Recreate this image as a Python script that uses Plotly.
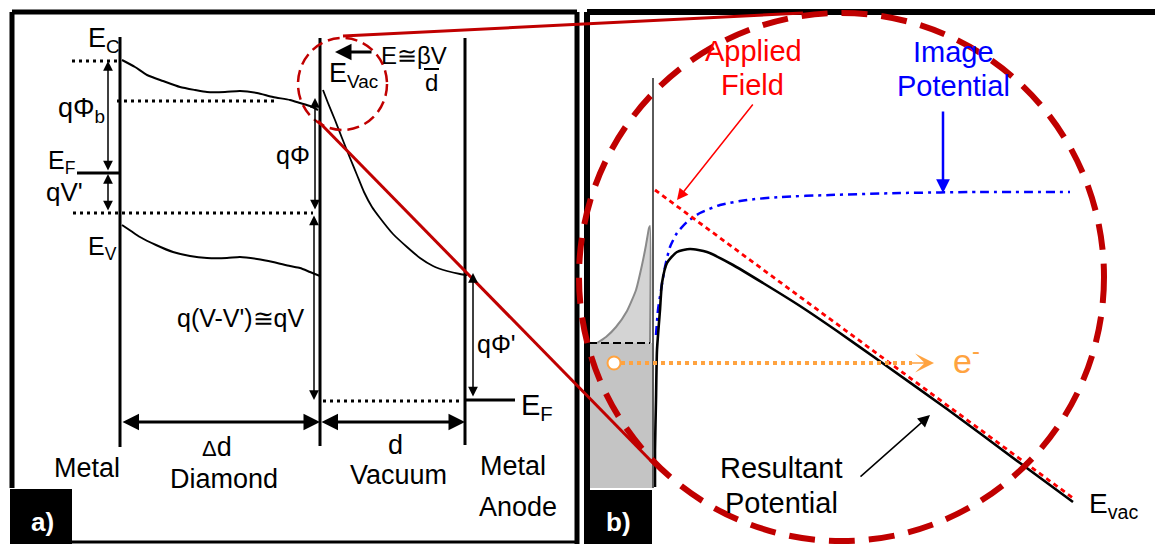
import plotly.graph_objects as go

W, H = 1155, 544
SANS = "Liberation Sans, Arial, sans-serif"
DARK_RED = "#c00000"
ORANGE = "#ffa340"

# ---------------- panel a: band diagram (drawing units, y grows downward)
cond_band_x = [122, 135, 147, 163, 180, 195, 207, 225, 240, 257, 273, 290, 300, 310, 318]
cond_band_y = [60, 67, 75, 81, 87, 90, 92, 92, 91, 93, 97, 100, 103, 106, 110]
val_band_x = [122, 131, 140, 156, 173, 190, 207, 227, 240, 257, 273, 290, 300, 310, 320]
val_band_y = [225, 231, 237, 245, 252, 256, 258, 258, 257, 259, 262, 266, 268, 272, 276]
vac_level_x = [323, 328, 335, 342, 350, 357, 364, 372, 380, 393, 407, 420, 433, 447, 460, 467]
vac_level_y = [90, 103, 120, 138, 158, 175, 192, 207, 218, 234, 247, 258, 266, 271, 274, 275]

# ---------------- panel b: potential barrier at the emitting surface
dos_x = [597, 606, 616, 627, 636, 642, 646, 649, 650, 650]
dos_y = [343, 337, 327, 311, 290, 265, 245, 228, 226, 343]
applied_x = [655, 1073]
applied_y = [190, 498]
image_x = [656, 658, 661, 665, 670, 677, 687, 700, 720, 747, 780, 830, 900, 980, 1070]
image_y = [335, 310, 290, 267, 247, 233, 222, 213, 205, 200, 197, 195, 193, 192, 192]
result_x = [655, 655, 656, 657, 660, 662, 667, 677, 690, 707, 733, 763, 800, 837, 881, 947, 1020, 1073]
result_y = [487, 450, 400, 350, 310, 283, 263, 252, 249, 252, 265, 283, 306, 331, 362, 409, 463, 502]

fig = go.Figure()


def curve(x, y, color, width, dash=None, **kw):
    fig.add_trace(go.Scatter(
        x=x, y=y, mode="lines",
        line=dict(color=color, width=width, dash=dash, shape="spline", smoothing=0.6),
        hoverinfo="skip", showlegend=False, **kw))


def seg(x0, y0, x1, y1, color="black", width=3, dash=None, layer="above"):
    fig.add_shape(type="line", x0=x0, y0=y0, x1=x1, y1=y1, layer=layer,
                  line=dict(color=color, width=width, dash=dash))


def box(x0, y0, x1, y1, fill, layer="above"):
    fig.add_shape(type="rect", x0=x0, y0=y0, x1=x1, y1=y1, layer=layer,
                  fillcolor=fill, line=dict(width=0))


def arrow(xt, yt, xh, yh, color="black", width=1.5, size=1.3, head=2, both=False):
    fig.add_annotation(
        x=xh, y=yh, ax=xt, ay=yt, xref="x", yref="y", axref="x", ayref="y",
        text="", showarrow=True, arrowhead=head, arrowsize=size, arrowwidth=width,
        arrowcolor=color, arrowside="end+start" if both else "end",
        startarrowhead=head, startarrowsize=size, standoff=0, startstandoff=0)


def label(text, x, y, size, color="black", family=SANS, xanchor="center", bold=False):
    fig.add_annotation(
        x=x, y=y, xref="x", yref="y", text=f"<b>{text}</b>" if bold else text,
        showarrow=False, xanchor=xanchor, yanchor="middle",
        font=dict(family=family, size=size, color=color))


# ---------- panel b background pieces (metal block, occupied states)
box(589, 343, 652, 488, "#c4c4c4", layer="below")
fig.add_trace(go.Scatter(x=dos_x, y=dos_y, mode="lines", fill="toself",
                         fillcolor="#d4d4d4", line=dict(color="#8a8a8a", width=2, shape="spline", smoothing=0.5),
                         hoverinfo="skip", showlegend=False))

# ---------- panel a curves
curve(cond_band_x, cond_band_y, "black", 2)
curve(val_band_x, val_band_y, "black", 2)
curve(vac_level_x, vac_level_y, "black", 1.8)

# ---------- panel b curves
curve(image_x, image_y, "#0000ff", 2.5, dash="9px,5px,3px,5px")
curve(applied_x, applied_y, "#ff0000", 2.8, dash="5px,4px")
curve(result_x, result_y, "black", 2.6)

# ---------- frames
seg(12, 12, 577, 12, width=5)
seg(12, 12, 12, 488, width=5)
seg(577, 12, 577, 544, width=5)
seg(72, 542, 577, 542, width=3)
seg(587, 12, 1155, 12, width=6)
seg(587, 12, 587, 490, width=6)
box(10, 489, 72, 544, "black")
box(584, 490, 652, 544, "black")

# ---------- panel a structure
seg(120, 37, 120, 447)
seg(320, 38, 320, 446)
seg(465, 38, 465, 445)
seg(77, 173, 120, 173)
seg(465, 400, 515, 400)
DOTS = "3px,4px"
seg(72, 61, 120, 61, dash=DOTS)
seg(117, 101, 277, 101, dash=DOTS)
seg(73, 213, 313, 213, dash=DOTS)
seg(323, 401, 463, 401, dash=DOTS)
seg(424, 69, 439, 69, width=2)

# ---------- panel b structure
seg(653, 78, 653, 488, color="#5a5a5a", width=2)
seg(589, 343, 650, 343, width=2, dash="8px,4px")
seg(621, 363, 912, 363, color=ORANGE, width=4, dash="dot")
fig.add_trace(go.Scatter(x=[614], y=[363], mode="markers",
                         marker=dict(size=13, color="white", line=dict(color=ORANGE, width=2)),
                         hoverinfo="skip", showlegend=False))

# ---------- zoom circles and connectors
fig.add_shape(type="circle", x0=298, x1=387, y0=38, y1=130,
              line=dict(color=DARK_RED, width=2.5, dash="12px,6px"))
seg(343, 36, 803, 13, color=DARK_RED, width=3)
seg(318, 121, 655, 465, color=DARK_RED, width=3)
fig.add_shape(type="circle", x0=579, x1=1104, y0=13, y1=541,
              line=dict(color=DARK_RED, width=6, dash="26px,14px"))

# ---------- arrows, panel a
arrow(108, 172, 108, 61, both=True)
arrow(108, 212, 108, 174, both=True)
arrow(315, 211, 315, 98, both=True)
arrow(314, 214, 314, 400, both=True)
arrow(473, 398, 473, 273, both=True)
arrow(121, 422, 320, 422, width=3, size=1.1, both=True)
arrow(320, 422, 465, 422, width=3, size=1.1, both=True)
arrow(373, 52, 335, 52, width=3, size=1.1)

# ---------- arrows, panel b
arrow(754, 103, 677, 200, color="#ff0000", width=1.5, size=1.5)
arrow(943, 110, 943, 193, color="#0000ff", width=2.5, size=1.1)
arrow(859, 478, 930, 415, color="black", width=1.5, size=1.6)
arrow(910, 363, 934, 363, color=ORANGE, width=1.5, size=2.1, head=3)

# ---------- text, panel a
label("E<sub>C</sub>", 86, 40, 27, xanchor="left")
label("qΦ<sub>b</sub>", 56, 110, 27, xanchor="left")
label("E<sub>F</sub>", 46, 162, 25, xanchor="left")
label("qV'", 44, 192, 26, xanchor="left")
label("E<sub>V</sub>", 86, 248, 25, xanchor="left")
label("qΦ", 274, 155, 25, xanchor="left")
label("q(V-V')≅qV", 241, 318, 25)
label("E<sub>Vac</sub>", 327, 75, 27, xanchor="left")
label("E≅βV", 379, 55, 24, xanchor="left")
label("d", 431, 82, 24)
label("qΦ'", 475, 344, 25, xanchor="left")
label("E<sub>F</sub>", 519, 407, 29, xanchor="left")
label("Metal", 87, 468, 27)
label('<span style="font-size:22px">Δ</span>d', 217, 447, 27)
label("Diamond", 224, 479, 27)
label("d", 395, 445, 27)
label("Vacuum", 398, 475, 27)
label("Metal", 513, 466, 27)
label("Anode", 518, 507, 27)
label("a)", 42, 522, 26, color="white", bold=True)

# ---------- text, panel b
label("Applied", 753, 51, 29, color="#ff0000")
label("Field", 752, 85, 29, color="#ff0000")
label("Image", 953, 52, 29, color="#0000ff")
label("Potential", 953, 86, 29, color="#0000ff")
label("e<sup>-</sup>", 951, 358, 34, color=ORANGE, xanchor="left")
label("Resultant", 781, 468, 29)
label("Potential", 781, 503, 29)
label("E<sub>vac</sub>", 1087, 505, 28, xanchor="left")
label("b)", 618, 522, 26, color="white", bold=True)

fig.update_layout(
    width=W, height=H, autosize=False,
    margin=dict(l=0, r=0, t=0, b=0, pad=0),
    paper_bgcolor="white", plot_bgcolor="white",
    xaxis=dict(range=[0, W], visible=False, fixedrange=True),
    yaxis=dict(range=[H, 0], visible=False, fixedrange=True),
    showlegend=False,
)

fig.write_html("out.html")
